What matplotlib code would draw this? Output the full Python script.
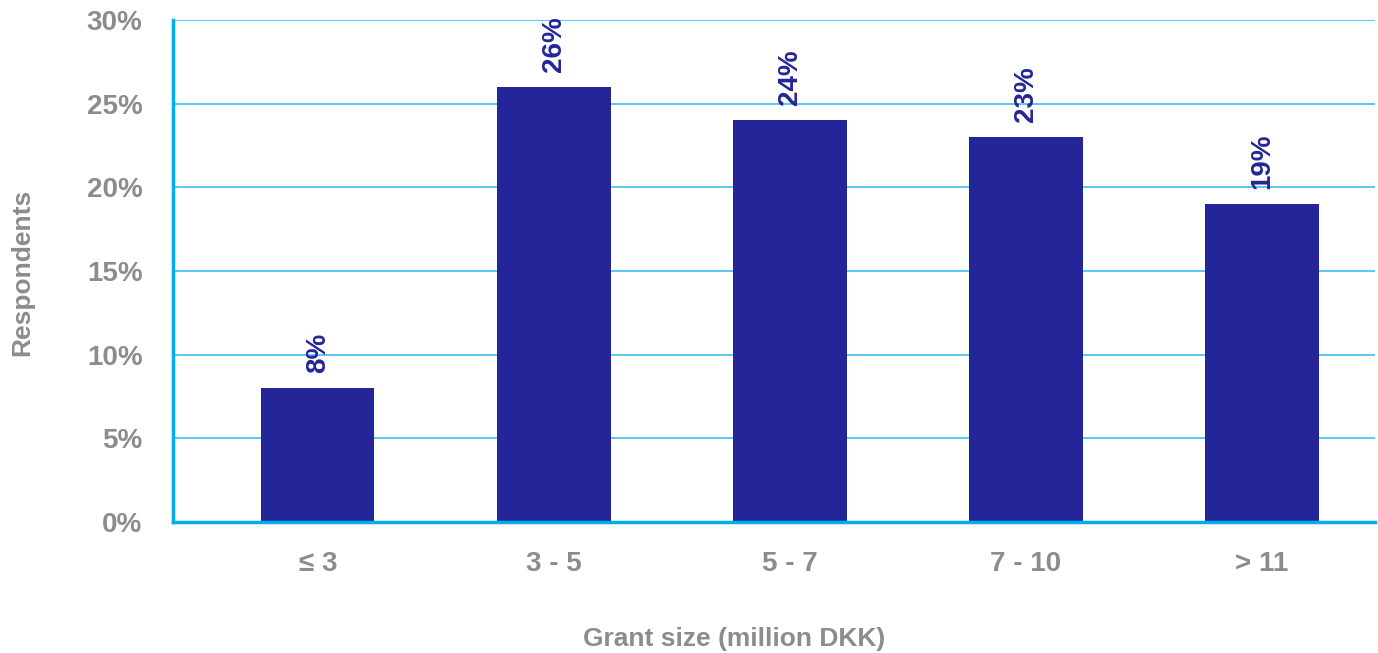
import matplotlib.pyplot as plt
import matplotlib.ticker as mticker

# Grant size distribution among respondents
categories = ['≤ 3', '3 - 5', '5 - 7', '7 - 10', '> 11']
shares = [8, 26, 24, 23, 19]
y_ticks = [0, 5, 10, 15, 20, 25, 30]

bar_color = '#242598'
grid_color = '#4cc3f2'
spine_color = '#00aeef'
text_grey = '#8c8c8c'

plt.rcParams['font.family'] = ['Liberation Sans', 'DejaVu Sans']
plt.rcParams['font.weight'] = 'bold'

fig = plt.figure(figsize=(13.78, 6.53), dpi=100)
ax = fig.add_axes([0.1255, 0.2006, 0.8723, 0.7688])

x = list(range(len(categories)))
ax.bar(x, shares, width=0.48, color=bar_color, zorder=3)

# rotated value labels above each bar
for xi, v in zip(x, shares):
    ax.annotate(f'{v}%', (xi, v), xytext=(0, 11), textcoords='offset points',
                rotation=90, ha='center', va='bottom', fontsize=20,
                fontweight='bold', color=bar_color, zorder=4)

ax.set_xlim(-0.614, 4.479)
ax.set_ylim(0, 30)
ax.set_yticks(y_ticks)
ax.yaxis.set_major_formatter(mticker.FuncFormatter(lambda v, p: f'{v:.0f}%'))
ax.set_xticks(x)
ax.set_xticklabels(categories)

ax.grid(axis='y', color=grid_color, linewidth=1.3, zorder=0)
ax.set_axisbelow(True)
for side in ['top', 'right']:
    ax.spines[side].set_visible(False)
for side in ['left', 'bottom']:
    ax.spines[side].set_color(spine_color)
    ax.spines[side].set_linewidth(2.5)
ax.spines['bottom'].set_zorder(5)

ax.tick_params(length=0, labelsize=20, labelcolor=text_grey)
ax.tick_params(axis='y', pad=22)
ax.tick_params(axis='x', pad=21)
for lbl in ax.get_xticklabels() + ax.get_yticklabels():
    lbl.set_fontweight('bold')

fig.text(0.016, 0.583, 'Respondents', rotation=90, ha='center', va='center',
         fontsize=19, fontweight='bold', color=text_grey)
fig.text(0.533, 0.022, 'Grant size (million DKK)', ha='center', va='center',
         fontsize=19, fontweight='bold', color=text_grey)

fig.savefig('out.png', dpi=100)
